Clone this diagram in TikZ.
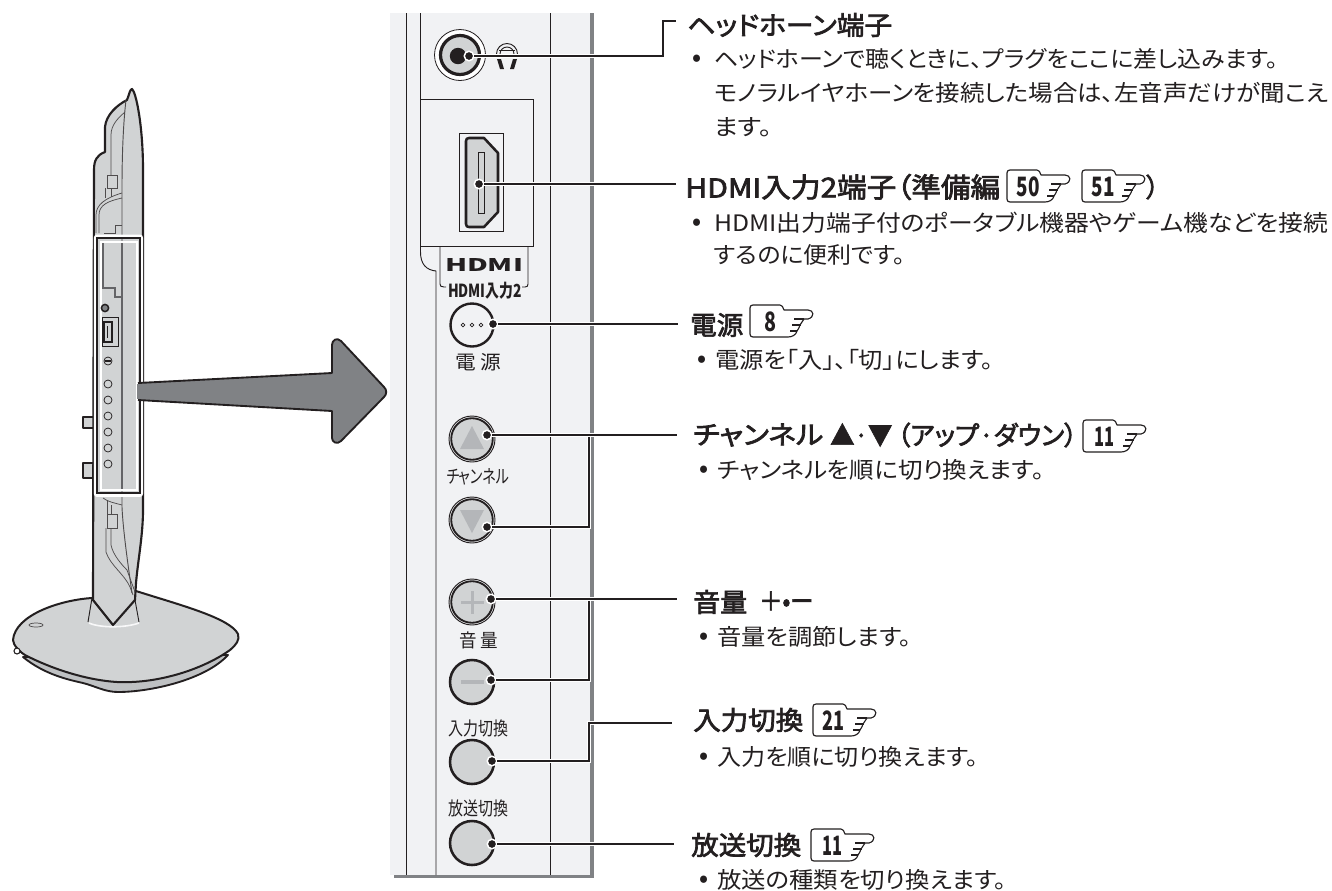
\documentclass[tikz,border=0pt]{standalone}
\usepackage{graphicx}
\usepackage{fontspec}
\setmainfont{Noto Sans CJK JP}[RawFeature={+palt}]
\newfontfamily\hfont{Noto Sans CJK JP}[FakeBold=2.5,RawFeature={+palt}]
\newdimen\pxu \pxu=.75pt
\newcommand\fitx[2]{\resizebox{#1\pxu}{\height}{#2}}
\newcommand\bodyf{\fontsize{17}{17}\selectfont}
\newcommand\headf{\hfont\fontsize{19.5}{19.5}\selectfont}
\definecolor{ink}{HTML}{231F20}
\definecolor{tvgray}{HTML}{D1D3D4}
\definecolor{panelbg}{HTML}{F1F2F4}
\definecolor{edgegray}{HTML}{808285}
\definecolor{markgray}{HTML}{B4B6B9}
\tikzset{
  txt/.style={anchor=west,inner sep=0pt,text=ink},
  body/.style={txt,font=\bodyf},
  bul/.style={inner sep=0pt,text=ink,font=\fontsize{17}{17}\selectfont\bfseries},
  headtxt/.style={txt,font=\headf},
  lbl/.style={inner sep=0pt,text=ink,font=\fontsize{14}{14}\selectfont},
  thin line/.style={draw=ink,line width=.7pt},
  tvline/.style={draw=ink!80,line width=.55pt},
  tvthick/.style={draw=ink,line width=1.5pt,line join=round},
  dotnode/.style={circle,fill=ink,draw=white,line width=1.1pt,minimum size=9.5\pxu,inner sep=0pt},
  lead/.style={draw=ink,line width=1.3pt,preaction={draw=white,line width=3.4pt}},
  btn/.style={draw=ink,line width=1.9pt,fill=tvgray},
}
% badge: name, x, y(top), text, text width px, text centre x offset
\newcommand\badge[6]{%
  \begin{scope}[shift={(#2,#3)}]
    \draw[ink,line width=.85pt,line join=round,fill=white]
      (3,0) -- (30,0) .. controls (32,0) and (33,2) .. (34,5) -- (58,5)
      .. controls (64,5) and (65,12) .. (58,14) -- (46,14) -- (54,14)
      .. controls (52,16) and (52,18) .. (50,20) -- (43,20)
      -- (50,20) .. controls (49,22) and (49,24) .. (47,26) -- (41,26)
      -- (47,26) .. controls (46,30) and (42,32) .. (38,32)
      -- (3,32) .. controls (1,32) and (0,31) .. (0,29) -- (0,3) .. controls (0,1) and (1,0) .. (3,0) -- cycle;
    \node[inner sep=0pt,text=ink,font=\fontsize{20}{20}\selectfont\bfseries] (#1) at (#6,16.5) {\fitx{#5}{#4}};
    \draw[ink,line width=.85pt] (44,14) -- (54,14) (42,20) -- (51,20) (40,26) -- (47,26);
  \end{scope}}
\begin{document}
\begin{tikzpicture}[x=.75pt,y=-.75pt]
\path[use as bounding box,fill=white] (0,0) rectangle (1332,890);

% ---------- TV side view
\draw[ink,line width=1.4pt,fill=markgray!85!white,line join=round]
  (23,657) .. controls (45,675) and (70,680) .. (83,683) .. controls (95,686) and (105,692) .. (118,692)
  .. controls (150,692) and (205,680) .. (228,655) -- cycle;
\draw[tvthick,fill=tvgray]
  (92,598) .. controls (60,600) and (15,615) .. (13,640) .. controls (13,645) and (20,652) .. (25,655)
  .. controls (50,668) and (85,680) .. (117,682) .. controls (160,684) and (205,668) .. (230,650)
  .. controls (236,645) and (240,640) .. (238,634) .. controls (230,618) and (180,605) .. (136,591) -- cycle;
\draw[tvline,fill=tvgray] (36,625) ellipse [x radius=7,y radius=2];
\draw[ink,line width=.8pt,fill=white] (17,651) circle (3);
\draw[ink,line width=.7pt] (88,622) -- (92,598) (139,622) -- (135,600);
\draw[white!85!tvgray,line width=1.2pt] (89,623) .. controls (100,628) and (125,628) .. (139,623);
\draw[tvthick,fill=tvgray] (94,417) -- (83,417) -- (83,428) -- (94,428);
\draw[tvthick,fill=tvgray] (94,463) -- (83,463) -- (83,478) -- (94,478);
\draw[draw=ink,line width=1.6pt,line join=round,fill=tvgray]
  (132,89) .. controls (136,92) and (143,125) .. (143,170) -- (143,510)
  .. controls (143,535) and (138,560) .. (136,583) -- (135,600) -- (113,625) -- (93,600) -- (94,170)
  .. controls (94,160) and (97,155) .. (105,152) -- (105,127)
  .. controls (106,115) and (117,105) .. (127,100) .. controls (129,95) and (130,89) .. (132,89) -- cycle;
\draw[tvline,line width=.7pt] (126,100) .. controls (123,125) and (122,160) .. (122,187) -- (122,507)
  .. controls (123,530) and (128,565) .. (132,593);
\draw[tvline] (125,112) .. controls (118,118) and (111,125) .. (111,135) -- (111,175);
\draw[tvline,fill=tvgray] (107,175) rectangle (117,188);
\draw[tvline] (111,188) -- (111,197) (105,188) -- (105,198);
\draw[tvline] (96,233) -- (96,215) .. controls (96,205) and (105,198) .. (122,193);
\draw[tvline] (99,233) -- (99,215) .. controls (99,205) and (108,201) .. (122,198);
\draw[tvline] (104,233) -- (115,233) -- (115,225) -- (122,225);
% lower details
\draw[tvline] (103,498) .. controls (108,502) and (115,503) .. (122,505);
\draw[tvline] (107,500) -- (107,514) (111,505) -- (111,514);
\draw[tvline,fill=tvgray] (107,514) rectangle (117,528);
\draw[tvline] (106,528) -- (106,552) .. controls (110,565) and (125,575) .. (130,587) -- (133,595);
\draw[tvline] (111,528) -- (111,545) .. controls (113,555) and (122,565) .. (127,570) -- (135,592);
% highlight frame
\draw[white,line width=2.2pt,rounded corners=1.5pt] (95.3,236) rectangle (141.6,495.5);
\draw[ink,line width=1.6pt] (97,238) rectangle (140,493);
\draw[white,line width=1.3pt] (101,242) rectangle (137,490);
\draw[edgegray!70!ink,line width=.9pt] (122,243) -- (122,489);
\draw[edgegray!70!ink,line width=.8pt] (103,243) -- (103,288) -- (115,288) -- (115,297) -- (122,297);
\draw[ink,line width=1.1pt,fill=edgegray] (105,308) circle (3.6);
\draw[ink,line width=.6pt] (102,317) rectangle (118,346);
\draw[ink,line width=1.1pt,fill=tvgray] (104,322) rectangle (112,342);
\draw[ink,line width=.4pt] (107,326) -- (107,338);
\draw[ink,line width=.55pt] (108,361) circle (4);
\draw[ink,line width=.8pt] (105,361) -- (111,361);
\foreach \cy in {384,400,416,432,448,464}
  \draw[ink,line width=.55pt] (108,\cy) circle (4);
% big arrow
\draw[ink,line width=1.4pt,fill=edgegray,line join=round]
  (138,383) -- (332,373) -- (332,345) .. controls (332,340) and (337,337) .. (341,341)
  -- (384,387) .. controls (387,390) and (387,394) .. (384,397)
  -- (341,441) .. controls (337,445) and (332,442) .. (332,438) -- (332,411) -- (138,400);
\draw[edgegray,line width=2pt] (138,384) -- (138,399);

% ---------- control panel
\fill[panelbg] (390,13) rectangle (592,875);
\fill[edgegray] (590,13) rectangle (594,878);
\fill[edgegray] (394,875) rectangle (594,878);
\draw[thin line] (406.5,13) -- (406.5,875);
\draw[thin line] (550.5,13) -- (550.5,875);
\draw[thin line] (420.5,13) -- (420.5,252) .. controls (420.5,264) and (426,270) .. (436,271) -- (436,875);

% jack
\draw[ink,line width=.6pt,fill=white] (460,55) circle (25.5);
\draw[ink,line width=2.4pt,fill=tvgray] (460,55) circle (19.5);
\fill[ink] (458,56) circle (8.2);
% headphone mark
\draw[ink,line width=.7pt] (496.5,54) arc[start angle=180,end angle=360,radius=10.5];
\draw[ink,line width=.7pt] (500,54) arc[start angle=180,end angle=360,radius=7];
\draw[ink,line width=.7pt] (499,50.5) -- (515,50.5);
\fill[ink] (497,59) -- (501,59) -- (504,69) -- (500,69) -- cycle;
\fill[ink] (517,59) -- (513,59) -- (510,69) -- (514,69) -- cycle;
% HDMI port
\draw[ink,line width=.7pt] (440,246) -- (440,284) .. controls (440,286) and (441,287) .. (444,287) -- (446,287);
\draw[ink,line width=.7pt] (528,246) -- (528,284) .. controls (528,286) and (527,287) .. (525,287) -- (522,287);
\draw[thin line,fill=panelbg] (420,99) rectangle (533,246);
\draw[ink,line width=.7pt] (459,133) rectangle (503,231);
\draw[ink,line width=1.9pt,fill=tvgray,line join=round]
  (469,138) -- (484,138) -- (498,153) -- (498,212) -- (484,227) -- (469,227)
  .. controls (467,227) and (466,226) .. (466,224) -- (466,141) .. controls (466,139) and (467,138) .. (469,138) -- cycle;
\draw[ink,line width=.6pt] (478,152) rectangle (484,213);
\node[inner sep=0pt,text=ink,font=\fontsize{15}{15}\selectfont\bfseries] (hdmilogo) at (484,265) {\resizebox{78\pxu}{13\pxu}{HDMI}};
\node[lbl,font=\fontsize{13.5}{13.5}\selectfont\bfseries] (hdmilabel) at (485,291) {\fitx{74}{HDMI入力2}};

% buttons
\draw[ink,line width=1.8pt,fill=panelbg] (472,325) circle (21.5);
\foreach \cx in {463,472,481} \draw[ink,line width=.5pt] (\cx,325) circle (1.9);
\node[lbl,font=\fontsize{14.5}{14.5}\selectfont] (lpower) at (478,362) {\fitx{46}{電 源}};
\foreach \cy in {439,520,602} {
  \draw[ink,line width=.7pt,fill=panelbg] (472,\cy) circle (23);
  \draw[ink,line width=1.4pt,fill=tvgray] (472,\cy) circle (20.8);
}
\fill[markgray] (472,426) -- (484,449) -- (460,449) -- cycle;
\fill[markgray] (472,533) -- (484,510) -- (460,510) -- cycle;
\fill[markgray] (460.5,600.5) rectangle (483.5,603.5);
\fill[markgray] (470.5,590.5) rectangle (473.5,613.5);
\node[lbl] (lch) at (478,477) {\fitx{63}{チャンネル}};
\node[lbl] (lvol) at (479,640) {\fitx{39}{音 量}};
\draw[btn] (472,682) circle (22);
\fill[markgray] (461,680) rectangle (484,684);
\node[lbl] (linput) at (478,728) {\fitx{60}{入力切換}};
\draw[btn] (472,762) circle (22);
\node[lbl] (lbroad) at (478,808) {\fitx{60}{放送切換}};
\draw[btn] (472,843) circle (22);

% anchor dots
\node[dotnode] (djack) at (469,56) {};
\node[dotnode] (dhdmi) at (479,184) {};
\node[dotnode] (dpow) at (493,324) {};
\node[dotnode] (dup) at (487,435) {};
\node[dotnode] (ddown) at (487,527) {};
\node[dotnode] (dplus) at (491,599) {};
\node[dotnode] (dminus) at (491,680) {};
\node[dotnode] (dinput) at (492,761) {};
\node[dotnode] (dbroad) at (492,844) {};

% free ends and junctions
\coordinate (ejack) at (676,21);
\coordinate (ehdmi) at (676,184);
\coordinate (epow) at (678,324);
\coordinate (eup) at (677,435);
\coordinate (jup) at (589,435);
\coordinate (eplus) at (677,599);
\coordinate (jplus) at (589,599);
\coordinate (einput) at (672,723);
\coordinate (ebroad) at (674,844);

\draw[lead] (djack) -- (663,56) -- (663,21) -- (ejack);
\draw[lead] (dhdmi) -- (ehdmi);
\draw[lead] (dpow) -- (epow);
\draw[lead] (ddown) -- (589,527) -- (jup);
\draw[lead] (dup) -- (eup);
\draw[lead] (dminus) -- (589,680) -- (jplus);
\draw[lead] (dplus) -- (eplus);
\draw[lead] (dinput) -- (589,761) -- (589,723) -- (einput);
\draw[lead] (dbroad) -- (ebroad);

% ---------- texts
\node[headtxt] (h1) at (687,25) {\fitx{205}{ヘッドホーン端子}};
\node[bul] (b1a) at (697,60) {•};
\node[body] (b1) at (714,59) {\fitx{564}{ヘッドホーンで聴くときに、プラグをここに差し込みます。}};
\node[body] (b1b) at (714,93) {\fitx{614}{モノラルイヤホーンを接続した場合は、左音声だけが聞こえ}};
\node[body] (b1c) at (714,127) {\fitx{58}{ます。}};

\node[headtxt] (h2) at (685,188) {\fitx{76}{HDMI}};
\node[headtxt,font=\hfont\fontsize{20.5}{20.5}\selectfont] (h2b) at (761,187) {\fitx{239}{入力2端子（準備編}};
\badge{bf}{1007}{170}{50}{23}{21}
\badge{bg}{1082}{170}{51}{23}{21}
\node[headtxt] (h2p) at (1146,187) {）};
\node[bul] (b2a) at (697,224) {•};
\node[body] (b2) at (714,223) {\fitx{614}{HDMI出力端子付のポータブル機器やゲーム機などを接続}};
\node[body] (b2b) at (714,255) {\fitx{191}{するのに便利です。}};

\node[headtxt] (h3) at (690,325) {\fitx{53}{電源}};
\badge{bp}{750}{305}{8}{12}{20}
\node[bul] (b3a) at (702,361) {•};
\node[body] (b3) at (715,360) {\fitx{278}{電源を「入」、「切」にします。}};

\node[headtxt] (h4) at (693,435) {\fitx{130}{チャンネル}};
\node[headtxt] (h4b) at (830,435) {\fitx{62}{▲·▼}};
\node[headtxt] (h4c) at (897,435) {\fitx{180}{（アップ·ダウン）}};
\badge{bc}{1083}{420}{11}{20}{21}
\node[bul] (b4a) at (704,471) {•};
\node[body] (b4) at (717,470) {\fitx{327}{チャンネルを順に切り換えます。}};

\node[headtxt] (h5) at (693,602) {\fitx{54}{音量}};
\node[headtxt] (h5b) at (759,601) {\fitx{54}{＋•ー}};
\node[bul] (b5a) at (704,638) {•};
\node[body] (b5) at (717,637) {\fitx{194}{音量を調節します。}};

\node[headtxt] (h6) at (693,720) {\fitx{110}{入力切換}};
\badge{bi}{813}{704}{21}{22}{20}
\node[bul] (b6a) at (704,758) {•};
\node[body] (b6) at (717,757) {\fitx{261}{入力を順に切り換えます。}};

\node[headtxt] (h7) at (691,845) {\fitx{110}{放送切換}};
\badge{bb}{811}{829}{11}{20}{21}
\node[bul] (b7a) at (704,881) {•};
\node[body] (b7) at (717,880) {\fitx{289}{放送の種類を切り換えます。}};
\end{tikzpicture}
\end{document}
